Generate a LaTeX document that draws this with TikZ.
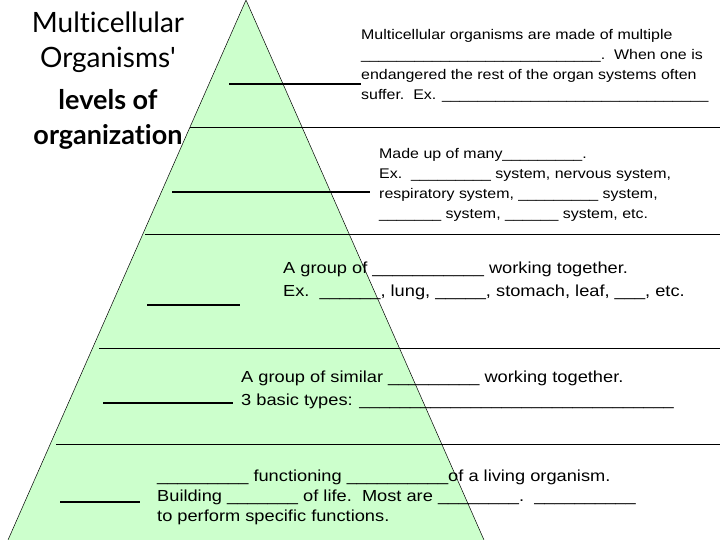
\documentclass[tikz,border=0pt]{standalone}
\usepackage{fontspec}
\setmainfont[FakeStretch=1.14]{Liberation Sans}
\newfontfamily\titlefont[Ligatures=NoCommon]{Lato}
\begin{document}
\begin{tikzpicture}[x=1pt,y=-1pt,
  txt/.style={anchor=north west,align=left,inner sep=0pt,font=\fontsize{14}{20}\selectfont},
  ttl/.style={anchor=center,inner sep=0pt,font=\titlefont\fontsize{28}{30}\selectfont},
  ttlb/.style={anchor=center,inner sep=0pt,font=\titlefont\bfseries\fontsize{27}{30}\selectfont},
  blank/.style={line width=2.2pt},
  sep/.style={line width=0.6pt}]
\useasboundingbox (0,0) rectangle (720,540);
\fill[green!20] (246,0) coordinate (apex) -- (8,540) coordinate (bl) -- (484,540) coordinate (br) -- cycle;
\draw[line width=0.5pt] (bl) -- (apex) -- (br);
\foreach \y/\x in {127/190,234/145,348/99,444/56} \draw[sep] (\x,\y) -- (720,\y);
\node[ttl] (ta) at (108,22) {Multicellular};
\node[ttl] (tb) at (108,60) {Organisms'};
\node[ttlb] (tc) at (108,100) {levels of};
\node[ttlb] (td) at (108,137) {organization};
\draw[blank] (229,84) -- (361,84);
\draw[blank] (172,192) -- (370,192);
\draw[blank] (147,305) -- (240,305);
\draw[blank] (103,403) -- (233,403);
\draw[blank] (60,502) -- (140,502);
\node[txt] (t1) at (361,29) {Multicellular organisms are made of multiple\\
\_\_\_\_\_\_\_\_\_\_\_\_\_\_\_\_\_\_\_\_\_\_\_\_\_\_\_.\ \ When one is\\
endangered the rest of the organ systems often\\
suffer.\ \ Ex. \_\_\_\_\_\_\_\_\_\_\_\_\_\_\_\_\_\_\_\_\_\_\_\_\_\_\_\_\_\_};
\node[txt] (t2) at (379,148) {Made up of many\_\_\_\_\_\_\_\_\_.\\
Ex.\ \ \_\_\_\_\_\_\_\_\_ system, nervous system,\\
respiratory system, \_\_\_\_\_\_\_\_\_ system,\\
\_\_\_\_\_\_\_ system, \_\_\_\_\_\_ system, etc.};
\node[txt,font=\fontsize{16}{23}\selectfont] (t3) at (283,262) {A group of \_\_\_\_\_\_\_\_\_\_\_ working together.\\
Ex.\ \ \_\_\_\_\_\_, lung, \_\_\_\_\_, stomach, leaf, \_\_\_, etc.};
\node[txt,font=\fontsize{16}{23}\selectfont] (t4) at (241,371) {A group of similar \_\_\_\_\_\_\_\_\_ working together.\\
3 basic types: \_\_\_\_\_\_\_\_\_\_\_\_\_\_\_\_\_\_\_\_\_\_\_\_\_\_\_\_\_\_\_};
\node[txt,font=\fontsize{16}{20}\selectfont] (t5) at (157,470) {\_\_\_\_\_\_\_\_\_ functioning \_\_\_\_\_\_\_\_\_\_of a living organism.\\
Building \_\_\_\_\_\_\_ of life.\ \ Most are \_\_\_\_\_\_\_\_.\ \ \_\_\_\_\_\_\_\_\_\_\\
to perform specific functions.};
\end{tikzpicture}
\end{document}
